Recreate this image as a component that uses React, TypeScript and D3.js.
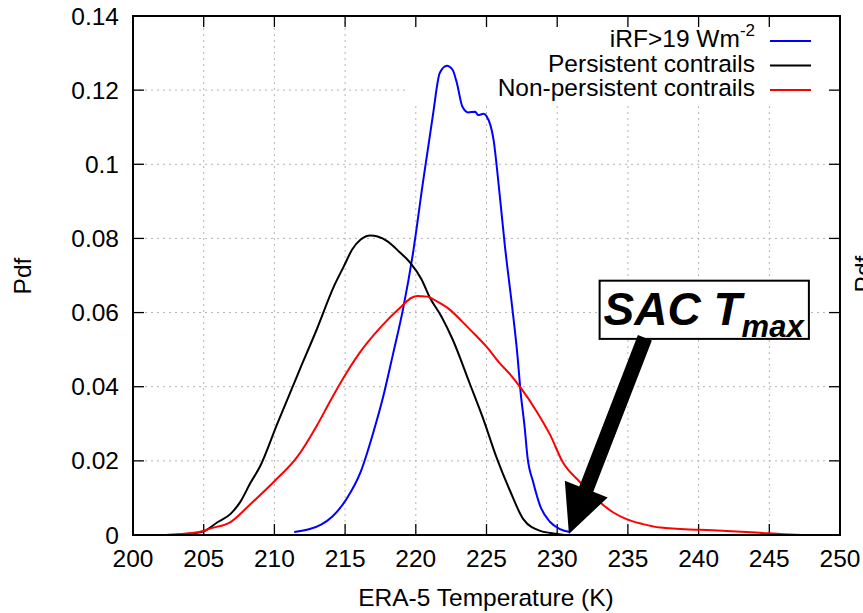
import React from "react";
import * as d3 from "d3";

// ---- data ----
const xTicks = [200, 205, 210, 215, 220, 225, 230, 235, 240, 245, 250];
const yTicks = [0, 0.02, 0.04, 0.06, 0.08, 0.1, 0.12, 0.14];
const yTickLabels = ["0", "0.02", "0.04", "0.06", "0.08", "0.1", "0.12", "0.14"];

const seriesNames = ["iRF>19 Wm", "Persistent contrails", "Non-persistent contrails"];
const seriesColors = ["#0000ff", "#000000", "#ff0000"];

const irfData: [number, number][] = [
  [211.4, 0.0008], [212.5, 0.0016], [213.3, 0.0028], [214.1, 0.005], [215.1, 0.0097],
  [216.1, 0.017], [217.0, 0.0277], [217.7, 0.0374], [218.4, 0.049], [219.1, 0.061],
  [219.8, 0.076], [220.5, 0.095], [221.2, 0.113], [221.7, 0.1247], [222.2, 0.1266],
  [222.6, 0.1255], [222.9, 0.122], [223.3, 0.1155], [223.7, 0.114], [224.2, 0.1142],
  [224.4, 0.1133], [224.8, 0.1136], [225.0, 0.113], [225.5, 0.1066], [225.9, 0.093],
  [226.3, 0.078], [226.8, 0.062], [227.2, 0.048], [227.4, 0.039], [227.7, 0.029],
  [227.9, 0.021], [228.3, 0.0143], [228.8, 0.0078], [229.5, 0.0035], [230.2, 0.0016],
  [230.9, 0.0008],
];

const persistentData: [number, number][] = [
  [202.3, 0], [203.5, 0.0002], [204.5, 0.0006], [205.0, 0.001], [206.0, 0.0035],
  [206.9, 0.0057], [207.6, 0.009], [208.3, 0.014], [209.0, 0.0186], [210.2, 0.03],
  [211.8, 0.0447], [213.0, 0.0555], [214.2, 0.067], [214.9, 0.0724], [215.5, 0.077],
  [216.1, 0.0797], [216.8, 0.0808], [217.3, 0.0805], [218.0, 0.0792], [218.8, 0.0765],
  [219.6, 0.0735], [220.4, 0.069], [221.0, 0.064], [221.8, 0.059], [222.6, 0.0528],
  [223.8, 0.041], [224.8, 0.031], [225.7, 0.021], [226.7, 0.0116], [227.6, 0.0043],
  [228.8, 0.0011], [230.0, 0.0003], [230.5, 0],
];

const nonPersistentData: [number, number][] = [
  [202.3, 0], [203.5, 0.0003], [204.7, 0.0008], [205.5, 0.0018], [206.9, 0.0035],
  [208.3, 0.0083], [210.0, 0.0145], [211.6, 0.021], [213.0, 0.0295],
  [214.0, 0.0365], [214.9, 0.0425], [216.0, 0.049], [217.5, 0.056], [219.0, 0.0617],
  [219.7, 0.064], [220.1, 0.0645], [220.8, 0.0643], [221.5, 0.063], [222.4, 0.0608],
  [223.3, 0.0575], [224.2, 0.054], [225.0, 0.0508], [225.9, 0.0465], [226.7, 0.0432],
  [227.4, 0.0398], [228.6, 0.033], [229.5, 0.027], [230.4, 0.0196], [231.6, 0.0143],
  [233.0, 0.0089], [234.0, 0.006], [234.9, 0.0043], [236.0, 0.003], [237.3, 0.002],
  [240.1, 0.0014], [242.0, 0.0011], [244.3, 0.0006], [246.0, 0.0002], [247.3, 0],
];

const allSeries = [irfData, persistentData, nonPersistentData];

// annotation anchors (data units)
const arrowStart: [number, number] = [236.2, 0.0532];
const arrowTip: [number, number] = [230.83, 0.0003];
const boxTopLeft: [number, number] = [233.0, 0.0686];
const boxBottomRight: [number, number] = [247.8, 0.0529];

// ---- layout ----
const W = 863;
const H = 613;
const L = 133, R = 840, T = 16, B = 535;
const FONT = "'Liberation Sans', Arial, Helvetica, sans-serif";
const FS = 24.5;

export default function App() {
  const x = d3.scaleLinear().domain([200, 250]).range([L, R]);
  const y = d3.scaleLinear().domain([0, 0.14]).range([B, T]);
  const line = d3
    .line<[number, number]>()
    .x((d) => x(d[0]))
    .y((d) => y(d[1]))
    .curve(d3.curveMonotoneX);

  const tick = 11;

  // arrow polygon
  const sx = x(arrowStart[0]), sy = y(arrowStart[1]);
  const px = x(arrowTip[0]), py = y(arrowTip[1]);
  const len = Math.hypot(px - sx, py - sy);
  const ux = (px - sx) / len, uy = (py - sy) / len;
  const nx = -uy, ny = ux;
  const hl = 48, hw = 23, sw = 7.5;
  const bx = px - ux * hl, by = py - uy * hl;
  const pts = [
    [sx + nx * sw, sy + ny * sw],
    [bx + nx * sw, by + ny * sw],
    [bx + nx * hw, by + ny * hw],
    [px, py],
    [bx - nx * hw, by - ny * hw],
    [bx - nx * sw, by - ny * sw],
    [sx - nx * sw, sy - ny * sw],
  ];

  const bX0 = x(boxTopLeft[0]), bY0 = y(boxTopLeft[1]);
  const bX1 = x(boxBottomRight[0]), bY1 = y(boxBottomRight[1]);

  const legendRows = [47, 71.5, 96];

  return (
    <svg
      width={W}
      height={H}
      style={{ position: "absolute", left: 0, top: 0, background: "#fff" }}
      fontFamily={FONT}
    >
      <rect x={0} y={0} width={W} height={H} fill="#fff" />
      {/* grid */}
      {xTicks.slice(1, -1).map((t) => (
        <line key={"gx" + t} x1={x(t)} x2={x(t)} y1={T} y2={B}
          stroke="#b4b4b4" strokeWidth={1} strokeDasharray="2,4" />
      ))}
      {yTicks.slice(1, -1).map((t) => (
        <line key={"gy" + t} x1={L} x2={R} y1={y(t)} y2={y(t)}
          stroke="#b4b4b4" strokeWidth={1} strokeDasharray="2,4" />
      ))}
      {/* legend opaque area */}
      <rect x={405} y={T + 1} width={R - 406} height={102 - T - 1} fill="#fff" />

      {/* ticks */}
      {xTicks.map((t) => (
        <g key={"tx" + t}>
          <line x1={x(t)} x2={x(t)} y1={B} y2={B - tick} stroke="#000" strokeWidth={1.3} />
          <line x1={x(t)} x2={x(t)} y1={T} y2={T + tick} stroke="#000" strokeWidth={1.3} />
          <text x={x(t)} y={567} textAnchor="middle" fontSize={FS} fill="#000">{t}</text>
        </g>
      ))}
      {yTicks.map((t, i) => (
        <g key={"ty" + t}>
          <line x1={L} x2={L + tick} y1={y(t)} y2={y(t)} stroke="#000" strokeWidth={1.3} />
          <line x1={R} x2={R - tick} y1={y(t)} y2={y(t)} stroke="#000" strokeWidth={1.3} />
          <text x={119} y={y(t) + 8.5} textAnchor="end" fontSize={FS} fill="#000">{yTickLabels[i]}</text>
        </g>
      ))}

      {/* curves */}
      {allSeries.map((s, i) => (
        <path key={"s" + i} d={line(s) || ""} fill="none" stroke={seriesColors[i]} strokeWidth={2} />
      ))}

      {/* frame */}
      <rect x={L} y={T} width={R - L} height={B - T} fill="none" stroke="#000" strokeWidth={2} />

      {/* legend */}
      {seriesNames.map((n, i) => (
        <g key={"lg" + i}>
          <text x={755} y={legendRows[i]} textAnchor="end" fontSize={FS} fill="#000">
            {n}
            {i === 0 && (
              <tspan fontSize={17} dy={-11}>-2</tspan>
            )}
          </text>
          <line x1={770} x2={811} y1={legendRows[i] - 6} y2={legendRows[i] - 6}
            stroke={seriesColors[i]} strokeWidth={2} />
        </g>
      ))}

      {/* axis titles */}
      <text x={486} y={606} textAnchor="middle" fontSize={FS} fill="#000">ERA-5 Temperature (K)</text>
      <text transform="translate(31,276) rotate(-90)" textAnchor="middle" fontSize={FS} fill="#000">Pdf</text>
      <text transform="translate(872,274) rotate(-90)" textAnchor="middle" fontSize={FS} fill="#000">Pdf</text>

      {/* annotation box */}
      <rect x={bX0} y={bY0} width={bX1 - bX0} height={bY1 - bY0} fill="#fff" stroke="#000" strokeWidth={2} />
      <text x={bX0 + 4} y={bY0 + 44} fontSize={46} fontWeight="bold" fontStyle="italic" fill="#000">
        SAC T
        <tspan fontSize={31} dy={12}>max</tspan>
      </text>
      <polygon points={pts.map((p) => p.join(",")).join(" ")} fill="#000" />
    </svg>
  );
}
